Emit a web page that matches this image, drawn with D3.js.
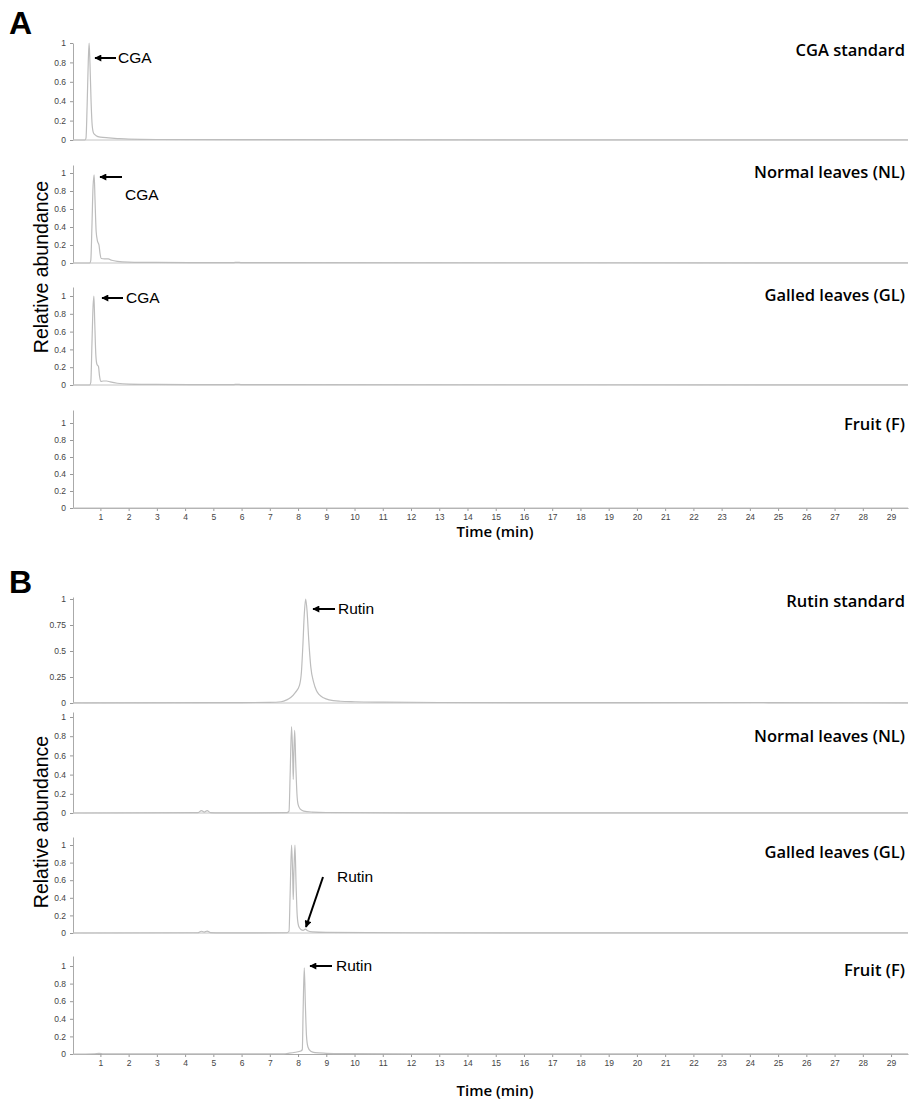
<!DOCTYPE html>
<html>
<head>
<meta charset="utf-8">
<script src="https://cdn.jsdelivr.net/npm/d3@7"></script>
<style>
  body { margin: 0; background: #fff; }
  svg { display: block; }
  .tick text { font-family: "Liberation Sans", Arial, sans-serif; font-size: 8.5px; fill: #444; }
  .tick line { stroke: #999; }
  .domain { stroke: #aaa; }
</style>
</head>
<body>
<div id="chart"></div>
<script>
// retention time (min), relative abundance
const cgaStandard = [[0.03,0],[0.45,0],[0.49,0.02],[0.53,0.35],[0.57,0.8],[0.6,1.0],[0.63,0.8],[0.67,0.4],[0.71,0.15],[0.76,0.07],[0.85,0.045],[1.0,0.03],[1.3,0.022],[1.6,0.015],[2.0,0.008],[3,0.005],[6,0.003],[29.6,0.001]];
const cgaNormal = [[0.03,0],[0.62,0],[0.66,0.03],[0.7,0.4],[0.74,0.85],[0.78,0.98],[0.81,0.7],[0.85,0.35],[0.9,0.24],[0.95,0.2],[0.99,0.1],[1.03,0.05],[1.15,0.045],[1.28,0.045],[1.4,0.03],[1.6,0.018],[2,0.01],[3,0.006],[5.7,0.004],[5.85,0.008],[6,0.004],[29.6,0.002]];
const cgaGalled = [[0.03,0],[0.62,0],[0.66,0.03],[0.7,0.45],[0.74,0.88],[0.77,1.0],[0.8,0.7],[0.84,0.33],[0.88,0.23],[0.93,0.21],[0.97,0.1],[1.02,0.04],[1.1,0.045],[1.22,0.045],[1.35,0.035],[1.6,0.02],[2,0.01],[3,0.006],[5.7,0.004],[5.85,0.008],[6,0.004],[29.6,0.002]];
const cgaFruit = [[0.03,0],[29.6,0]];

const rutinStandard = [[0.03,0.002],[5,0.003],[7,0.006],[7.4,0.012],[7.6,0.03],[7.75,0.055],[7.9,0.1],[8.05,0.17],[8.12,0.3],[8.17,0.55],[8.22,0.85],[8.27,1.0],[8.32,0.88],[8.38,0.6],[8.45,0.35],[8.55,0.2],[8.65,0.12],[8.75,0.08],[8.9,0.05],[9.1,0.03],[9.5,0.017],[10,0.012],[11,0.008],[13,0.005],[20,0.003],[24.5,0.005],[24.8,0.003],[29.6,0.002]];
const rutinNormal = [[0.03,0],[4.45,0.003],[4.58,0.025],[4.68,0.01],[4.78,0.025],[4.9,0.004],[5.2,0.002],[7.6,0.003],[7.68,0.02],[7.72,0.4],[7.77,0.9],[7.81,0.6],[7.83,0.35],[7.85,0.6],[7.88,0.86],[7.92,0.5],[7.96,0.2],[8.0,0.09],[8.08,0.04],[8.2,0.02],[8.5,0.01],[9,0.005],[12,0.002],[29.6,0.001]];
const rutinGalled = [[0.03,0],[4.45,0.003],[4.58,0.02],[4.68,0.01],[4.78,0.022],[4.9,0.004],[5.3,0.002],[7.6,0.003],[7.68,0.02],[7.72,0.45],[7.77,1.0],[7.81,0.65],[7.83,0.38],[7.85,0.65],[7.89,1.0],[7.93,0.55],[7.97,0.2],[8.02,0.08],[8.1,0.04],[8.18,0.03],[8.26,0.045],[8.34,0.025],[8.5,0.012],[9,0.006],[12,0.003],[29.6,0.001]];
const rutinFruit = [[0.03,0],[0.8,0.003],[0.95,0.006],[1.1,0.002],[7.5,0.002],[7.65,0.008],[7.9,0.02],[8.1,0.035],[8.15,0.05],[8.18,0.5],[8.22,0.98],[8.26,0.55],[8.3,0.2],[8.35,0.08],[8.45,0.03],[8.6,0.015],[9,0.008],[9.5,0.004],[12,0.002],[29.6,0.001]];

const titlesA = ["CGA standard", "Normal leaves (NL)", "Galled leaves (GL)", "Fruit (F)"];
const titlesB = ["Rutin standard", "Normal leaves (NL)", "Galled leaves (GL)", "Fruit (F)"];
const yTicks = [0, 0.2, 0.4, 0.6, 0.8, 1];
const yTicksRutin = [0, 0.25, 0.5, 0.75, 1];
const xTicks = d3.range(1, 30);

const width = 909, height = 1099;
const svg = d3.select("#chart").append("svg")
    .attr("width", width).attr("height", height);

svg.append("defs").append("marker")
    .attr("id", "arrow")
    .attr("viewBox", "0 0 10 10")
    .attr("refX", 9).attr("refY", 5)
    .attr("markerWidth", 8).attr("markerHeight", 7)
    .attr("markerUnits", "userSpaceOnUse")
    .attr("orient", "auto")
    .append("path").attr("d", "M0,0L10,5L0,10Z").attr("fill", "#000");

const x = d3.scaleLinear().domain([0.03, 29.6]).range([73, 908]);

// panel layout: pixel of 0, pixel of 1, top of the axis line, title baseline
const panels = [
    {data: cgaStandard, title: titlesA[0], y0: 140, y1: 43, top: 43, ty: 56, ticks: yTicks},
    {data: cgaNormal, title: titlesA[1], y0: 263, y1: 173, top: 165, ty: 178, ticks: yTicks},
    {data: cgaGalled, title: titlesA[2], y0: 385, y1: 296, top: 287, ty: 301, ticks: yTicks},
    {data: cgaFruit, title: titlesA[3], y0: 508, y1: 423, top: 410, ty: 430, ticks: yTicks, xaxis: true},
    {data: rutinStandard, title: titlesB[0], y0: 703, y1: 599, top: 597, ty: 607, ticks: yTicksRutin},
    {data: rutinNormal, title: titlesB[1], y0: 813, y1: 717, top: 712, ty: 742, ticks: yTicks},
    {data: rutinGalled, title: titlesB[2], y0: 933, y1: 845, top: 837, ty: 858, ticks: yTicks},
    {data: rutinFruit, title: titlesB[3], y0: 1054, y1: 966, top: 956, ty: 976, ticks: yTicks, xaxis: true}
];

panels.forEach(p => {
    const y = d3.scaleLinear().domain([0, 1]).range([p.y0, p.y1]);
    const topVal = y.invert(p.top);
    const yAxis = d3.scaleLinear().domain([0, topVal]).range([p.y0, p.top]);

    const g = svg.append("g");
    g.append("g")
        .attr("transform", "translate(73,0)")
        .call(d3.axisLeft(yAxis).tickValues(p.ticks).tickSize(3).tickSizeOuter(0)
            .tickFormat(d => String(d)))
        .call(a => a.selectAll("text").attr("dx", "-1"));

    if (p.xaxis) {
        g.append("g")
            .attr("transform", `translate(0,${p.y0})`)
            .call(d3.axisBottom(x).tickValues(xTicks).tickSize(3).tickSizeOuter(0)
                .tickFormat(d3.format("d")));
    } else {
        g.append("line")
            .attr("x1", 73).attr("x2", 908)
            .attr("y1", p.y0).attr("y2", p.y0)
            .attr("stroke", "#c4c4c4");
    }

    const line = d3.line()
        .x(d => x(d[0]))
        .y(d => y(d[1]))
        .curve(d3.curveMonotoneX);

    g.append("path")
        .datum(p.data)
        .attr("d", line)
        .attr("fill", "none")
        .attr("stroke", "#bdbdbd")
        .attr("stroke-width", 1.2);

    g.append("text")
        .attr("x", 905).attr("y", p.ty)
        .attr("text-anchor", "end")
        .attr("font-family", "'Open Sans', sans-serif")
        .attr("font-weight", 600)
        .attr("font-size", 16.5)
        .text(p.title);
});

// panel letters
[["A", 34], ["B", 593]].forEach(([t, yy]) => {
    svg.append("text").attr("x", 9).attr("y", yy)
        .attr("font-family", "'Liberation Sans', Arial, sans-serif")
        .attr("font-weight", "bold").attr("font-size", 32).text(t);
});

// axis titles
[[537, 267], [1096, 822]].forEach(([ty, ly]) => {
    svg.append("text").attr("x", 495).attr("y", ty)
        .attr("text-anchor", "middle")
        .attr("font-family", "'Open Sans', sans-serif")
        .attr("font-weight", 600).attr("font-size", 15)
        .text("Time (min)");
    svg.append("text")
        .attr("transform", `translate(48,${ly}) rotate(-90)`)
        .attr("text-anchor", "middle")
        .attr("font-family", "'Liberation Sans', Arial, sans-serif")
        .attr("font-size", 19.5)
        .text("Relative abundance");
});

// peak annotations
const notes = [
    {label: "CGA", x1: 116, y1: 58, x2: 95, y2: 58, tx: 118, ty: 63},
    {label: "CGA", x1: 122, y1: 177, x2: 100, y2: 177, tx: 125, ty: 200},
    {label: "CGA", x1: 123, y1: 298, x2: 102, y2: 298, tx: 126, ty: 303},
    {label: "Rutin", x1: 335, y1: 609, x2: 313, y2: 609, tx: 338, ty: 614},
    {label: "Rutin", x1: 323, y1: 877, x2: 306, y2: 927, tx: 337, ty: 882},
    {label: "Rutin", x1: 332, y1: 966, x2: 310, y2: 966, tx: 336, ty: 971}
];
notes.forEach(n => {
    svg.append("line")
        .attr("x1", n.x1).attr("y1", n.y1).attr("x2", n.x2).attr("y2", n.y2)
        .attr("stroke", "#000").attr("stroke-width", 2)
        .attr("marker-end", "url(#arrow)");
    svg.append("text").attr("x", n.tx).attr("y", n.ty)
        .attr("font-family", "'Liberation Sans', Arial, sans-serif")
        .attr("font-size", 15.5)
        .text(n.label);
});
</script>
</body>
</html>
